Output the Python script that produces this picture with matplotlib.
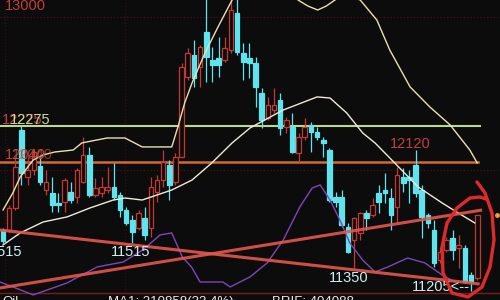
import matplotlib
matplotlib.use("Agg")
import matplotlib.pyplot as plt
from matplotlib.patches import Rectangle
import numpy as np

# daily candles (index = bar number)
opens = [11600, 11600, 11742, 12249, 11944, 11989, 12015, 11859, 11840, 11775,
         11781, 11846, 11814, 11911, 12087, 11827, 11840, 11859, 11879, 11827,
         11729, 11664, 11612, 11677, 11612, 11846, 11924, 12022, 11911, 12074,
         12594, 12737, 12659, 12886, 12704, 12717, 12704, 12769, 13010, 12750,
         12717, 12685, 12490, 12327, 12379, 12444, 12269, 12269, 12100, 12204,
         12282, 12236, 12184, 12119, 11814, 11814, 11619, 11534, 11580, 11710,
         11697, 11840, 11859, 11807, 11749, 11944, 11944, 12022, 11859, 11697,
         11599, 11404, 11469, 11547, 11482, 11482, 11307, 11287]
highs = [11612, 11760, 12074, 12275, 12074, 12119, 12074, 11989, 11944, 11840,
         11937, 11911, 12002, 12204, 12139, 11937, 11944, 12009, 12035, 11846,
         11749, 11697, 11729, 11749, 11944, 11957, 12119, 12054, 12100, 12685,
         12782, 12834, 12802, 13120, 12789, 12854, 12854, 13120, 13120, 12815,
         12815, 12724, 12522, 12464, 12522, 12490, 12334, 12360, 12230, 12327,
         12301, 12269, 12204, 12132, 11846, 11859, 11645, 11684, 11716, 11729,
         11807, 11892, 11970, 11872, 12009, 12002, 11989, 12120, 11892, 11710,
         11664, 11489, 11554, 11599, 11567, 11502, 11326, 11697]
lows = [11515, 11586, 11730, 11892, 11892, 11957, 11892, 11827, 11716, 11716,
        11716, 11775, 11775, 11905, 11814, 11814, 11814, 11840, 11794, 11684,
        11632, 11515, 11599, 11534, 11554, 11781, 11879, 11794, 11892, 12074,
        12574, 12529, 12529, 12561, 12561, 12594, 12691, 12750, 12737, 12574,
        12587, 12399, 12262, 12314, 12360, 12217, 12230, 12100, 12041, 12184,
        12106, 12184, 12074, 11781, 11749, 11619, 11450, 11350, 11534, 11599,
        11684, 11710, 11775, 11599, 11651, 11846, 11775, 11814, 11547, 11612,
        11359, 11385, 11456, 11404, 11352, 11255, 11205, 11274]
closes = [11530, 11742, 12009, 11970, 11989, 12106, 11911, 11911, 11762, 11762,
          11924, 11794, 11989, 12087, 11827, 11872, 11879, 11879, 11814, 11729,
          11645, 11586, 11710, 11567, 11879, 11924, 12041, 11892, 12074, 12659,
          12750, 12587, 12789, 12724, 12672, 12672, 12782, 13029, 12756, 12691,
          12685, 12529, 12314, 12412, 12412, 12262, 12314, 12106, 12204, 12269,
          12236, 12204, 12165, 11794, 11781, 11632, 11456, 11677, 11710, 11677,
          11762, 11781, 11840, 11697, 11957, 11905, 11924, 11840, 11684, 11645,
          11385, 11456, 11534, 11469, 11502, 11261, 11261, 11697]

# moving averages (bar index, price)
ma_fast_x = [0, 1.6, 2.8, 4.9, 6.5, 8.4, 11.4, 12.8, 16.9, 19.8, 22.6, 27.4,
             28.4, 29.5, 30.7, 32.8, 34.9, 37.2, 40.1, 45.0, 47.9, 49.5, 51.1,
             52.5, 53.9, 55.5, 58.0, 60.7, 62.8, 66.1, 69.3, 72.6, 75.8, 77.0]
ma_fast_y = [11729, 11840, 11944, 12054, 12087, 12106, 12119, 12165, 12197,
             12197, 12139, 12139, 12269, 12425, 12555, 12750, 12918, 13094,
             13200, 13250, 13094, 13055, 13029, 13055, 13094, 13130, 13094,
             12964, 12769, 12529, 12399, 12282, 12119, 12035]
ma_slow_x = [0, 2.8, 6.5, 10.4, 14.1, 17.9, 19.8, 22.6, 27.4, 30.7, 33.9, 37.2,
             40.1, 45.5, 51.0, 53.1, 55.8, 58.4, 60.4, 63.6, 67.4, 71.3, 73.9,
             76.6]
ma_slow_y = [11502, 11580, 11651, 11684, 11742, 11794, 11807, 11794, 11859,
             11924, 12035, 12165, 12262, 12379, 12464, 12457, 12360, 12230,
             12165, 12035, 11879, 11775, 11710, 11645]

# purple indicator line
ind_x = [-0.5, 1.6, 4.9, 10.4, 15.3, 19.5, 22.7, 25.5, 27.4, 29.1, 30.6, 32.0,
         35.7, 36.9, 40.1, 42.9, 45.5, 48.2, 50.2, 51.5, 53.1, 54.7, 56.3,
         58.4, 60.4, 62.5, 65.7, 68.5, 71.3, 73.4]
ind_y = [11261, 11229, 11177, 11255, 11359, 11391, 11469, 11567, 11580, 11424,
         11359, 11261, 11261, 11229, 11294, 11385, 11534, 11749, 11872, 11892,
         11794, 11664, 11515, 11404, 11326, 11359, 11417, 11385, 11307, 11261]

# hand drawn trend lines
trend1_x, trend1_y = [-0.5, 77.4], [11599, 11248]
trend2_x, trend2_y = [-0.5, 77.8], [11222, 11729]

level_green = 12275
level_orange = 12040

bg = "#0d0c0c"
cyan = "#5fe3ec"
red = "#c23a32"
cream = "#eadfb4"
white_ma = "#efeadb"
purple = "#7d47b8"
label_red = "#c0403c"
label_cyan = "#cdeff0"
font = "Liberation Sans"

fig = plt.figure(figsize=(5, 3), dpi=100, facecolor=bg)
ax = fig.add_axes([0, 0, 1, 1], facecolor=bg)
ax.set_xlim(-0.49, 80.7)
ax.set_ylim(11144, 13094)
ax.axis("off")

# faint dotted grid
for yy in [12983, 11989]:
    ax.axhline(yy, color="#4a1616", lw=0.8, ls=(0, (1, 2)))
for xx in [0.3, 19.8]:
    ax.axvline(xx, color="#3a1414", lw=0.8, ls=(0, (1, 2)))
ax.axhline(11189, color="#7a1c1c", lw=1.0)

# levels
ax.plot([-0.5, 77.4], [level_green] * 2, color="#b9d98f", lw=1.5, zorder=2)
ax.plot([-0.5, 77.1], [level_orange] * 2, color="#d46a32", lw=1.8, zorder=2)

# candles
w = 0.75
for i, (o, h, l, c) in enumerate(zip(opens, highs, lows, closes)):
    up = c >= o
    col = red if up else cyan
    top, bot = max(o, c), min(o, c)
    ax.vlines(i, top, h, color=col, lw=0.9, zorder=3)
    ax.vlines(i, l, bot, color=col, lw=0.9, zorder=3)
    ax.add_patch(Rectangle((i - w / 2, bot), w, max(top - bot, 5),
                           fc=bg if up else col, ec=col, lw=0.9, zorder=3))

# moving averages and indicator
ax.plot(ma_fast_x, ma_fast_y, color=cream, lw=1.0, zorder=4)
ax.plot(ma_slow_x, ma_slow_y, color=white_ma, lw=1.0, zorder=4)
ax.plot(ind_x, ind_y, color=purple, lw=1.0, zorder=4)

# trend lines
ax.plot(trend1_x, trend1_y, color="#e4574c", lw=2.2, alpha=0.9, zorder=5,
        solid_capstyle="butt")
ax.plot(trend2_x, trend2_y, color="#e4574c", lw=2.2, alpha=0.9, zorder=5,
        solid_capstyle="butt")

# price labels
kw = dict(fontsize=10.5, family=font, va="center", zorder=6)
ax.text(0.3, 13055, "13000", color=label_red, ha="left", **kw)
ax.text(-0.16, 12314, "12275", color=label_red, ha="left", **kw)
ax.text(1.14, 12314, "12275", color="#c4dc98", ha="left", **kw)
ax.text(0.3, 12087, "12040", color=label_red, ha="left", **kw)
ax.text(1.4, 12087, "12040", color="#d0603a", ha="left", alpha=0.6, **kw)
ax.text(66.1, 12158, "12120", color=label_red, ha="center", **kw)
ax.text(3.1, 11456, "11515", color=label_cyan, ha="right", **kw)
ax.text(20.8, 11456, "11515", color=label_cyan, ha="center", **kw)
ax.text(56.2, 11287, "11350", color=label_cyan, ha="center", **kw)
ax.text(66.4, 11229, "11205<--", color=label_cyan, ha="left", **kw)

# hand drawn circle around the last bars (axes pixel fractions)
loop_px = [(477, 182), (485, 193), (492, 213), (494, 240), (490, 267),
           (482, 287), (468, 297), (452, 293), (443, 273), (442, 247),
           (447, 223), (457, 208), (470, 198), (480, 197), (486, 199)]
lx = [p[0] / 500 for p in loop_px]
ly = [1 - p[1] / 300 for p in loop_px]
ax.plot(lx, ly, transform=ax.transAxes, color="#e02a2a", lw=2.4, zorder=7,
        solid_capstyle="round", clip_on=False)
ax.plot([497 / 500], [1 - 215 / 300], "o", ms=2.5, color="#f0a040",
        transform=ax.transAxes, zorder=7)

# status line at bottom (mostly cut off)
skw = dict(fontsize=9.5, family=font, color="#e8e8e8", va="top",
           transform=ax.transAxes)
ax.text(0.004, 0.013, "Qil", **skw)
ax.text(0.215, 0.013, "MA1: 210858(33.4%)", **skw)
ax.text(0.545, 0.013, "BRIF: 404088", **skw)

fig.savefig("out.png", dpi=100, facecolor=bg)
